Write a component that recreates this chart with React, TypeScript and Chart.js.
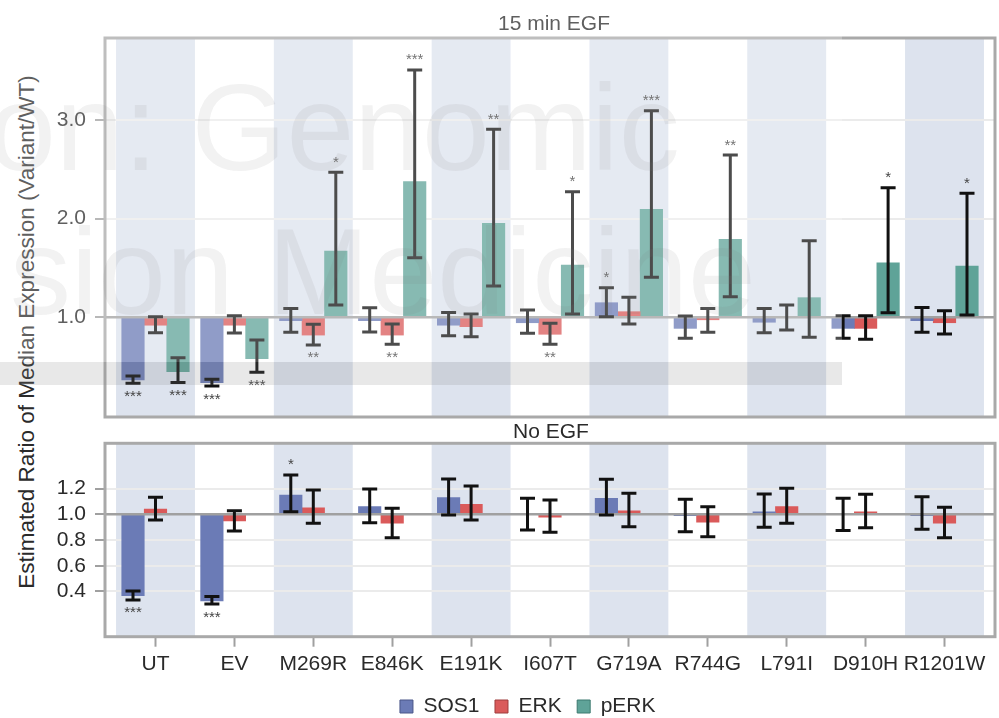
import React, { useEffect, useRef } from 'react';
import { Chart, registerables } from 'chart.js';

Chart.register(...registerables);

// ---------------- data ----------------
const categories = ['UT', 'EV', 'M269R', 'E846K', 'E191K', 'I607T', 'G719A', 'R744G', 'L791I', 'D910H', 'R1201W'];
const seriesNames = ['SOS1', 'ERK', 'pERK'];

// 15 min EGF
const sos1Egf = [0.365, 0.337, 0.966, 0.966, 0.92, 0.945, 1.148, 0.888, 0.95, 0.888, 0.966];
const sos1EgfLo = [0.331, 0.304, 0.848, 0.851, 0.814, 0.838, 1.006, 0.787, 0.844, 0.787, 0.848];
const sos1EgfHi = [0.405, 0.372, 1.09, 1.097, 1.05, 1.074, 1.3, 1.013, 1.09, 1.016, 1.1];
const sos1EgfSig = ['***', '***', '', '', '', '', '*', '', '', '', ''];

const erkEgf = [0.92, 0.92, 0.82, 0.82, 0.905, 0.828, 1.057, 0.975, 1.0, 0.888, 0.945];
const erkEgfLo = [0.844, 0.84, 0.72, 0.726, 0.804, 0.726, 0.932, 0.848, 0.871, 0.777, 0.831];
const erkEgfHi = [1.006, 1.016, 0.93, 0.932, 1.033, 0.94, 1.203, 1.09, 1.125, 1.016, 1.067];
const erkEgfSig = ['', '', '**', '**', '', '**', '', '', '', '', ''];

const pErkEgf = [0.45, 0.58, 1.672, 2.374, 1.952, 1.53, 2.094, 1.79, 1.199, 1.553, 1.52];
const pErkEgfLo = [0.34, 0.443, 1.125, 1.604, 1.317, 1.033, 1.405, 1.209, 0.797, 1.047, 1.023];
const pErkEgfHi = [0.59, 0.77, 2.47, 3.506, 2.905, 2.273, 3.093, 2.644, 1.776, 2.313, 2.256];
const pErkEgfSig = ['***', '***', '*', '***', '**', '*', '***', '**', '', '*', '*'];

// No EGF
const sos1No = [0.367, 0.326, 1.15, 1.059, 1.129, 1.0, 1.124, 0.99, 1.02, 1.0, 0.99];
const sos1NoLo = [0.334, 0.302, 1.02, 0.935, 0.995, 0.878, 0.995, 0.865, 0.899, 0.873, 0.883];
const sos1NoHi = [0.404, 0.36, 1.306, 1.197, 1.275, 1.124, 1.272, 1.117, 1.158, 1.124, 1.137];
const sos1NoSig = ['***', '***', '*', '', '', '', '', '', '', '', ''];

const erkNo = [1.041, 0.948, 1.051, 0.93, 1.078, 0.977, 1.026, 0.938, 1.059, 1.02, 0.93];
const erkNoLo = [0.956, 0.87, 0.93, 0.818, 0.956, 0.86, 0.904, 0.826, 0.93, 0.896, 0.818];
const erkNoHi = [1.132, 1.028, 1.189, 1.047, 1.22, 1.111, 1.163, 1.059, 1.202, 1.155, 1.054];
const erkNoSig = ['', '', '', '', '', '', '', '', '', '', ''];

const topTicks = [1.0, 2.0, 3.0];
const bottomTicks = [0.4, 0.6, 0.8, 1.0, 1.2];

// ---------------- style ----------------
const FONT = '"Liberation Sans", Arial, Helvetica, sans-serif';
const TEXT = '#2a2a2a';
const COLORS = ['#6b7bb6', '#da5a5a', '#5fa398'];
const LEGEND_BORDERS = ['#4a5788', '#9e3c3c', '#3d7a70'];
const BAND = '#dde3ee';
const X_MIN = -0.64;
const X_MAX = 10.64;

type Err = { val: (number | null)[]; lo: number[]; hi: number[]; sig: string[] } | null;

function panelPlugin(title: string, titleX: number, titleBase: number, errs: Err[], watermark: boolean) {
  return {
    id: 'panel_' + title.replace(/\W/g, ''),
    afterLayout(chart: any) {
      if (chart.legend && chart.legend.options && chart.legend.options.display) {
        chart.legend.left = 60.5;
      }
    },
    beforeDraw(chart: any) {
      const { ctx, chartArea: a, scales } = chart;
      const x = scales.x;
      ctx.save();
      ctx.fillStyle = BAND;
      for (let i = 0; i < categories.length; i += 2) {
        const l = x.getPixelForValue(i - 0.5);
        const r = x.getPixelForValue(i + 0.5);
        ctx.fillRect(l, a.top, r - l, a.bottom - a.top);
      }
      ctx.restore();
    },
    afterDatasetsDraw(chart: any) {
      const { ctx, chartArea: a, scales } = chart;
      const y = scales.y;
      ctx.save();
      const y1 = y.getPixelForValue(1);
      ctx.strokeStyle = '#a0a0a0';
      ctx.lineWidth = 2.5;
      ctx.beginPath();
      ctx.moveTo(a.left, y1);
      ctx.lineTo(a.right, y1);
      ctx.stroke();
      errs.forEach((e, d) => {
        if (!e) return;
        const meta = chart.getDatasetMeta(d);
        meta.data.forEach((el: any, i: number) => {
          const v = e.val[i];
          if (v == null) return;
          const cx = el.x;
          const yl = y.getPixelForValue(e.lo[i]);
          const yh = y.getPixelForValue(e.hi[i]);
          ctx.strokeStyle = '#111';
          ctx.lineWidth = 3;
          ctx.beginPath();
          ctx.moveTo(cx, yl);
          ctx.lineTo(cx, yh);
          ctx.moveTo(cx - 7.5, yl);
          ctx.lineTo(cx + 7.5, yl);
          ctx.moveTo(cx - 7.5, yh);
          ctx.lineTo(cx + 7.5, yh);
          ctx.stroke();
          const s = e.sig[i];
          if (s) {
            const up = v >= 1;
            const c = up ? yh - 14 : yl + 9;
            ctx.fillStyle = '#444';
            ctx.font = `15px ${FONT}`;
            ctx.textAlign = 'center';
            ctx.textBaseline = 'alphabetic';
            ctx.fillText(s, cx, c + 8.5);
          }
        });
      });
      ctx.restore();
    },
    afterDraw(chart: any) {
      const { ctx, chartArea: a } = chart;
      ctx.save();
      ctx.strokeStyle = '#a9a9a9';
      ctx.lineWidth = 3;
      ctx.strokeRect(a.left, a.top, a.right - a.left, a.bottom - a.top);
      ctx.fillStyle = TEXT;
      ctx.font = `21px ${FONT}`;
      ctx.textAlign = 'center';
      ctx.textBaseline = 'alphabetic';
      ctx.fillText(title, titleX, titleBase);
      if (watermark) {
        ctx.font = `122px ${FONT}`;
        ctx.textAlign = 'left';
        ctx.fillStyle = 'rgba(80,80,80,0.1)';
        ctx.fillText('on: Genomic', -12, 170);
        ctx.fillText('sion Medicine', 10, 314);
        ctx.fillStyle = 'rgba(255,255,255,0.25)';
        ctx.fillRect(0, 0, 842, 362);
        ctx.fillStyle = 'rgba(140,140,140,0.2)';
        ctx.fillRect(0, 362, 842, 23);
      }
      ctx.restore();
    },
  };
}

function yAxis(min: number, max: number, ticks: number[], width: number) {
  return {
    type: 'linear',
    position: 'left',
    min,
    max,
    afterBuildTicks: (s: any) => {
      s.ticks = ticks.map((v) => ({ value: v }));
    },
    afterFit: (s: any) => {
      s.width = width;
      s.paddingTop = 0;
      s.paddingBottom = 0;
    },
    ticks: {
      autoSkip: false,
      padding: 9,
      color: TEXT,
      font: { family: FONT, size: 21 },
      callback: (v: any) => Number(v).toFixed(1),
    },
    grid: {
      color: (c: any) => (c.tick && Math.abs(c.tick.value - 1) < 1e-9 ? 'rgba(0,0,0,0)' : '#ebebeb'),
      lineWidth: 2,
      tickColor: '#a0a0a0',
      tickLength: 10,
      tickWidth: 2,
    },
    border: { display: false },
  };
}

function dataset(idx: number, vals: (number | null)[]) {
  return {
    label: seriesNames[idx],
    data: categories.map((_, i) => ({ x: i, y: vals[i] })),
    backgroundColor: COLORS[idx],
    borderWidth: 0,
    base: 1,
    barThickness: 22.5,
  };
}

export default function App() {
  const topRef = useRef<HTMLCanvasElement>(null);
  const botRef = useRef<HTMLCanvasElement>(null);

  useEffect(() => {
    const nulls = categories.map(() => null);
    const topErrs: Err[] = [
      { val: sos1Egf, lo: sos1EgfLo, hi: sos1EgfHi, sig: sos1EgfSig },
      { val: erkEgf, lo: erkEgfLo, hi: erkEgfHi, sig: erkEgfSig },
      { val: pErkEgf, lo: pErkEgfLo, hi: pErkEgfHi, sig: pErkEgfSig },
    ];
    const botErrs: Err[] = [
      { val: sos1No, lo: sos1NoLo, hi: sos1NoHi, sig: sos1NoSig },
      { val: erkNo, lo: erkNoLo, hi: erkNoHi, sig: erkNoSig },
      null,
    ];

    const top = new Chart(topRef.current as HTMLCanvasElement, {
      type: 'bar',
      data: {
        datasets: [dataset(0, sos1Egf), dataset(1, erkEgf), dataset(2, pErkEgf)] as any,
      },
      options: {
        responsive: false,
        animation: false,
        devicePixelRatio: 1,
        events: [],
        layout: { padding: { top: 38, bottom: 3, left: 0, right: 4 } },
        plugins: { legend: { display: false }, tooltip: { enabled: false } },
        scales: {
          x: { type: 'linear', display: false, min: X_MIN, max: X_MAX, offset: false, grid: { offset: false } },
          y: yAxis(-0.01, 3.83, topTicks, 105),
        } as any,
      } as any,
      plugins: [panelPlugin('15 min EGF', 554, 30, topErrs, true)],
    });

    const bot = new Chart(botRef.current as HTMLCanvasElement, {
      type: 'bar',
      data: {
        datasets: [dataset(0, sos1No), dataset(1, erkNo), dataset(2, nulls)] as any,
      },
      options: {
        responsive: false,
        animation: false,
        devicePixelRatio: 1,
        events: [],
        layout: { padding: { top: 23.3, bottom: 3, left: 0, right: 4 } },
        plugins: {
          tooltip: { enabled: false },
          legend: {
            display: true,
            position: 'bottom',
            labels: {
              boxWidth: 13,
              boxHeight: 13,
              padding: 15.5,
              color: TEXT,
              font: { family: FONT, size: 21 },
              generateLabels: (chart: any) => {
                const items = (Chart.defaults as any).plugins.legend.labels.generateLabels(chart);
                return items.map((it: any, i: number) => ({ ...it, strokeStyle: LEGEND_BORDERS[i], lineWidth: 1 }));
              },
            },
          },
        },
        scales: {
          x: {
            type: 'linear',
            min: X_MIN,
            max: X_MAX,
            offset: false,
            afterBuildTicks: (s: any) => {
              s.ticks = categories.map((_, i) => ({ value: i }));
            },
            afterFit: (s: any) => {
              s.height = 43.8;
              s.paddingLeft = 0;
              s.paddingRight = 0;
            },
            ticks: {
              autoSkip: false,
              maxRotation: 0,
              minRotation: 0,
              padding: 5,
              color: TEXT,
              font: { family: FONT, size: 21 },
              callback: (v: any) => categories[Math.round(Number(v))] ?? '',
            },
            grid: {
              offset: false,
              drawOnChartArea: false,
              drawTicks: true,
              tickLength: 10,
              tickColor: '#a0a0a0',
              tickWidth: 2,
            },
            border: { display: false },
          },
          y: yAxis(0.048, 1.552, bottomTicks, 105),
        } as any,
      } as any,
      plugins: [panelPlugin('No EGF', 551, 18, botErrs, false)],
    });

    return () => {
      top.destroy();
      bot.destroy();
    };
  }, []);

  return (
    <div
      style={{
        position: 'absolute',
        left: 0,
        top: 0,
        width: 999,
        height: 718,
        overflow: 'hidden',
        background: '#ffffff',
      }}
    >
      <div
        style={{
          position: 'absolute',
          left: 27.4 - 270,
          top: 332 - 12,
          width: 540,
          height: 24,
          lineHeight: '24px',
          fontSize: 22.5,
          fontFamily: FONT,
          color: TEXT,
          textAlign: 'center',
          whiteSpace: 'nowrap',
          transform: 'rotate(-90deg)',
        }}
      >
        Estimated Ratio of Median Expression (Variant/WT)
      </div>
      <canvas
        ref={topRef}
        width={999}
        height={420}
        style={{ position: 'absolute', left: 0, top: 0, width: 999, height: 420, display: 'block' }}
      />
      <canvas
        ref={botRef}
        width={999}
        height={310}
        style={{ position: 'absolute', left: 0, top: 420, width: 999, height: 310, display: 'block' }}
      />
    </div>
  );
}
